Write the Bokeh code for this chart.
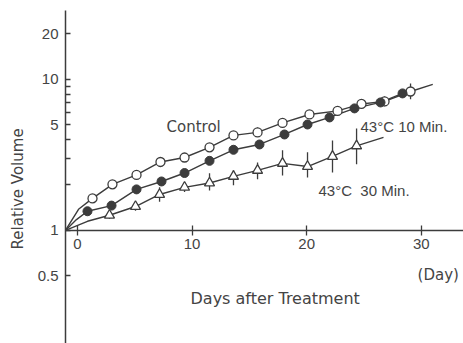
import math
from bokeh.plotting import figure
from bokeh.models import Range1d, FixedTicker, Label, BasicTickFormatter
from bokeh.embed import file_html
from bokeh.resources import INLINE

# ---------------- data ----------------
ctrl_day = [1.31, 3.05, 5.15, 7.24, 9.34, 11.52, 13.61, 15.71, 17.89, 20.24, 22.69, 24.78, 26.79, 29.06]
ctrl_vol = [1.63, 2.02, 2.33, 2.84, 3.04, 3.55, 4.26, 4.46, 5.15, 5.86, 6.19, 6.88, 7.15, 8.32]
ctrl_lo = [1.53, 1.90, 2.19, 2.67, 2.86, 3.34, 4.01, 4.15, 4.82, 5.49, 5.80, 6.40, 6.65, 7.40]
ctrl_hi = [1.73, 2.15, 2.48, 3.02, 3.23, 3.77, 4.53, 4.80, 5.50, 6.25, 6.60, 7.40, 7.70, 9.40]

m10_day = [0.87, 2.97, 5.15, 7.33, 9.34, 11.52, 13.61, 15.88, 18.06, 20.07, 21.99, 24.17, 26.44, 28.36]
m10_vol = [1.34, 1.46, 1.87, 2.11, 2.40, 2.89, 3.42, 3.71, 4.32, 5.03, 5.60, 6.43, 7.04, 8.08]
m10_lo = [1.26, 1.37, 1.76, 1.99, 2.26, 2.72, 3.22, 3.49, 4.06, 4.73, 5.27, 6.05, 6.62, 7.60]
m10_hi = [1.42, 1.55, 1.99, 2.24, 2.55, 3.07, 3.64, 3.94, 4.59, 5.35, 5.95, 6.84, 7.48, 8.59]

m30_day = [2.79, 5.06, 7.16, 9.34, 11.52, 13.61, 15.71, 17.89, 20.07, 22.25, 24.35]
m30_vol = [1.26, 1.44, 1.73, 1.93, 2.06, 2.28, 2.50, 2.78, 2.65, 3.09, 3.63]
m30_lo = [1.19, 1.35, 1.55, 1.80, 1.84, 1.99, 2.18, 2.31, 2.24, 2.42, 2.74]
m30_hi = [1.34, 1.53, 1.93, 2.08, 2.39, 2.50, 2.82, 3.39, 3.29, 3.94, 4.74]

# fitted-curve ends (start at the axes' crossing, end beyond the last point)
ctrl_head_day = [-1.05, 0.09]
ctrl_head_vol = [1.0, 1.38]
ctrl_tail_day = [31.0]
ctrl_tail_vol = [9.28]
m10_head_day = [-1.05, -0.09]
m10_head_vol = [1.0, 1.18]
m30_head_day = [-1.05, 0.87]
m30_head_vol = [1.0, 1.15]
m30_tail_day = [26.7]
m30_tail_vol = [4.13]

x_ticks = [0, 10, 20, 30]
y_ticks = [0.5, 1, 2, 3, 4, 5, 6, 7, 8, 9, 10, 20]
y_labels = {0.5: "0.5", 1: "1", 2: "", 3: "", 4: "", 5: "5", 6: "", 7: "", 8: "", 9: "", 10: "10", 20: "20"}

INK = "#3c3c3c"
TXT = "#444444"
NARROW = "Liberation Sans"
GOTHIC = "DejaVu Sans"

p = figure(width=463, height=343, y_axis_type="log",
           x_range=Range1d(-1.047, 33.68), y_range=Range1d(0.1784, 28.6),
           output_backend="svg", toolbar_location=None,
           min_border_left=65, min_border_top=10, min_border_right=0, min_border_bottom=0)
p.outline_line_color = None
p.grid.visible = False
p.background_fill_color = "white"

# y axis
p.yaxis.ticker = FixedTicker(ticks=y_ticks)
p.yaxis.formatter = BasicTickFormatter()
p.yaxis.major_label_overrides = y_labels
p.yaxis.major_tick_in = 5
p.yaxis.major_tick_out = 0
p.yaxis.minor_tick_line_color = None
p.yaxis.axis_line_color = INK
p.yaxis.axis_line_width = 1.5
p.yaxis.major_tick_line_color = INK
p.yaxis.major_tick_line_width = 1.3
p.yaxis.major_label_text_font = NARROW
p.yaxis.major_label_text_font_size = "15px"
p.yaxis.major_label_text_color = TXT
p.yaxis.major_label_standoff = 7
p.yaxis.axis_label = "Relative Volume" + "\u00a0" * 5
p.yaxis.axis_label_text_font = GOTHIC
p.yaxis.axis_label_text_font_size = "15px"
p.yaxis.axis_label_text_font_style = "normal"
p.yaxis.axis_label_text_color = TXT
p.yaxis.axis_label_standoff = 8

# x axis drawn through y = 1
p.xaxis.fixed_location = 1
p.xaxis.ticker = FixedTicker(ticks=x_ticks)
p.xaxis.major_tick_in = 5
p.xaxis.major_tick_out = 5
p.xaxis.minor_tick_line_color = None
p.xaxis.axis_line_color = INK
p.xaxis.axis_line_width = 1.5
p.xaxis.major_tick_line_color = INK
p.xaxis.major_tick_line_width = 1.3
p.xaxis.major_label_text_font = NARROW
p.xaxis.major_label_text_font_size = "15px"
p.xaxis.major_label_text_color = TXT
p.xaxis.major_label_standoff = 4

# curves
p.line(ctrl_head_day + ctrl_day + ctrl_tail_day, ctrl_head_vol + ctrl_vol + ctrl_tail_vol,
       line_color=INK, line_width=1.4)
p.line(m10_head_day + m10_day, m10_head_vol + m10_vol, line_color=INK, line_width=1.4)
p.line(m30_head_day + m30_day + m30_tail_day, m30_head_vol + m30_vol + m30_tail_vol,
       line_color=INK, line_width=1.4)

# error bars
for d, lo, hi in ((ctrl_day, ctrl_lo, ctrl_hi), (m10_day, m10_lo, m10_hi), (m30_day, m30_lo, m30_hi)):
    p.segment(x0=d, y0=lo, x1=d, y1=hi, line_color=INK, line_width=1.3)

# markers
p.scatter(ctrl_day, ctrl_vol, marker="circle", size=9, fill_color="white", line_color=INK, line_width=1.3)
p.scatter(m10_day, m10_vol, marker="circle", size=9, fill_color=INK, line_color=INK, line_width=1.0)
p.scatter(m30_day, m30_vol, marker="triangle", size=10, fill_color="white", line_color=INK, line_width=1.3)

# texts
def lab(x, y, t, font, size, align="left"):
    p.add_layout(Label(x=x, y=y, text=t, text_font=font, text_font_size=size, text_color=TXT,
                       text_align=align, text_baseline="middle"))

lab(7.77, 4.81, "Control", GOTHIC, "15px")
lab(24.69, 4.89, "43°C 10 Min.", NARROW, "15px")
lab(21.03, 1.84, "43°C\u00a0\u00a030 Min.", NARROW, "15px")
lab(9.86, 0.355, "Days after Treatment", GOTHIC, "16px")
lab(29.67, 0.504, "(Day)", GOTHIC, "15px")

open("out.html", "w").write(file_html(p, INLINE))
